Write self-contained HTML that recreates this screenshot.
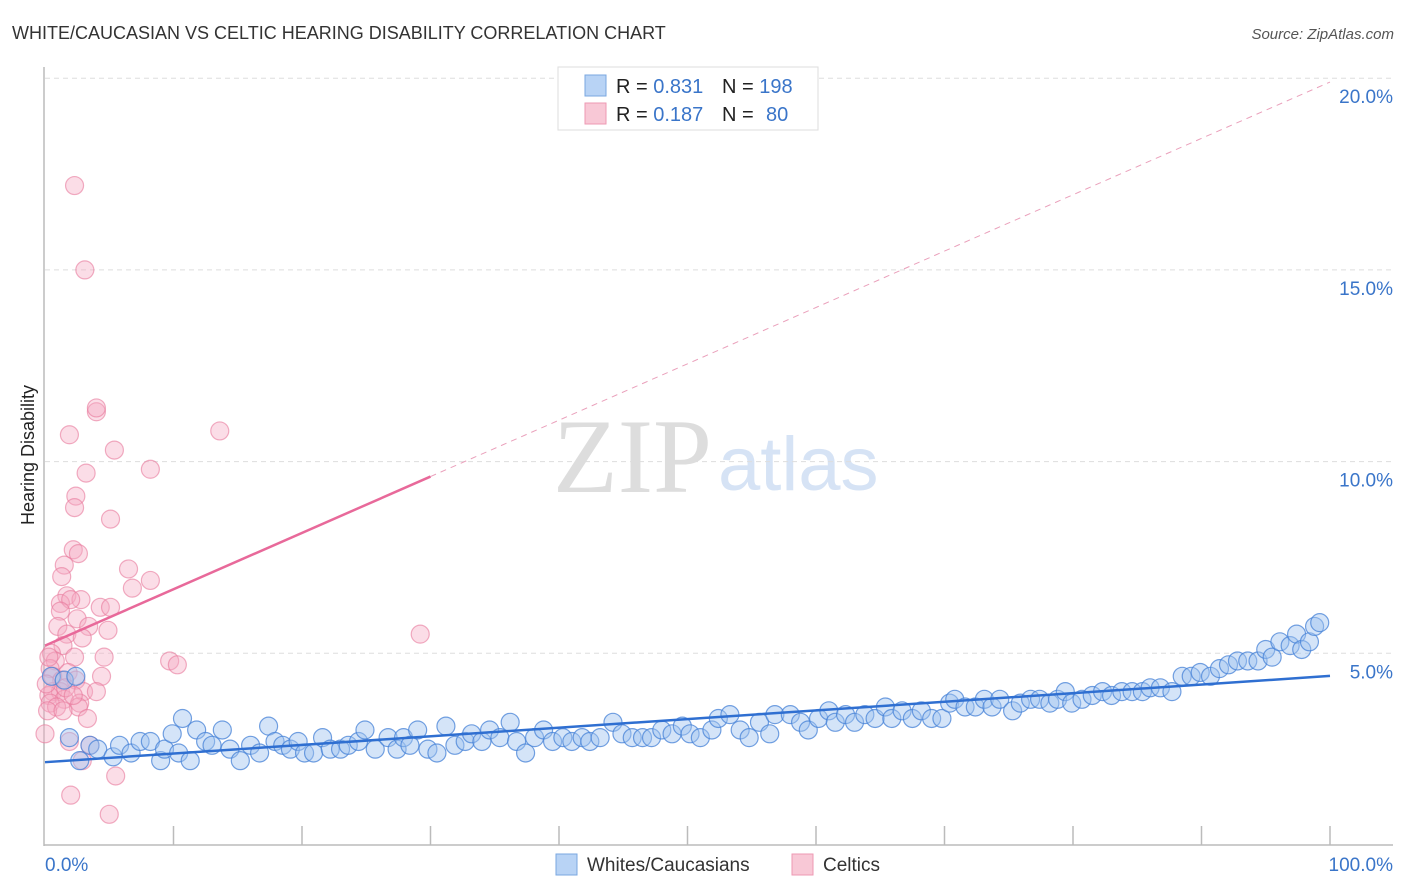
<!DOCTYPE html>
<html><head><meta charset="utf-8"><style>
body{margin:0;background:#fff;font-family:"Liberation Sans",sans-serif;}
svg{display:block}
</style></head><body>
<svg id="chart" width="1406" height="892" xmlns="http://www.w3.org/2000/svg">
<text x="12" y="39" font-size="18" fill="#333">WHITE/CAUCASIAN VS CELTIC HEARING DISABILITY CORRELATION CHART</text>
<text x="1394" y="39" font-size="15" fill="#555" font-style="italic" text-anchor="end">Source: ZipAtlas.com</text>
<g>
<text x="553" y="492" font-family="Liberation Serif,serif" font-size="106" fill="#ddd">ZIP</text>
<text x="718" y="490" font-size="76" fill="#d6e3f5">atlas</text>
</g>
<g id="grid"></g>
<g id="axes"></g>
<g id="pts"></g>
<g id="trends"></g>
<text transform="translate(34,455) rotate(-90)" font-size="18" fill="#222" text-anchor="middle">Hearing Disability</text>
<g>
<rect x="558" y="67" width="260" height="63" fill="#fff" stroke="#ddd"/>
<rect x="585" y="75" width="21" height="21" fill="#b8d3f5" stroke="#7aa7e0"/>
<rect x="585" y="103" width="21" height="21" fill="#f8c8d6" stroke="#ee99b3"/>
<text x="616" y="93" font-size="20" fill="#222">R = <tspan fill="#3a75c9">0.831</tspan><tspan x="722">N = </tspan><tspan fill="#3a75c9">198</tspan></text>
<text x="616" y="121" font-size="20" fill="#222">R = <tspan fill="#3a75c9">0.187</tspan><tspan x="722">N = </tspan><tspan fill="#3a75c9" x="766">80</tspan></text>
</g>
<g>
<rect x="556" y="854" width="21" height="21" fill="#b8d3f5" stroke="#7aa7e0"/>
<text x="587" y="871" font-size="19" fill="#333">Whites/Caucasians</text>
<rect x="792" y="854" width="21" height="21" fill="#f8c8d6" stroke="#ee99b3"/>
<text x="823" y="871" font-size="19" fill="#333">Celtics</text>
</g>
</svg>
<script>
const yTicks=[5,10,15,20];
const yTickLabels=["5.0%","10.0%","15.0%","20.0%"];
const xLabels=["0.0%","100.0%"];
const blueX=[1.9,2.7,3.5,4.1,5.3,5.8,6.7,7.4,8.2,9.0,9.3,9.9,10.4,10.7,11.3,11.8,12.5,13.0,13.8,14.4,15.2,16.0,16.7,17.4,17.9,18.5,19.1,19.7,20.2,20.9,21.6,22.2,23.0,23.6,24.4,24.9,25.7,26.7,27.4,27.9,28.4,29.0,29.8,30.5,31.2,31.9,32.7,33.2,34.0,34.6,35.4,36.2,36.7,37.4,38.1,38.8,39.5,40.3,41.0,41.8,42.4,43.2,44.2,44.9,45.7,46.5,47.2,48.0,48.8,49.6,50.2,51.0,51.9,52.4,53.3,54.1,54.8,55.6,56.4,56.8,58.0,58.8,59.4,60.2,61.0,61.5,62.3,63.0,63.8,64.6,65.4,65.9,66.7,67.5,68.2,69.0,69.8,70.4,70.8,71.6,72.4,73.1,73.7,74.3,75.3,75.9,76.7,77.4,78.2,78.8,79.4,79.9,80.7,81.5,82.3,83.0,83.8,84.6,85.4,86.0,86.8,87.7,88.5,89.2,89.9,90.7,91.4,92.1,92.8,93.6,94.4,95.0,95.5,96.1,96.9,97.4,97.8,98.4,98.8,99.2,0.5,1.5,2.4];
const blueY=[2.8,2.2,2.6,2.5,2.3,2.6,2.4,2.7,2.7,2.2,2.5,2.9,2.4,3.3,2.2,3.0,2.7,2.6,3.0,2.5,2.2,2.6,2.4,3.1,2.7,2.6,2.5,2.7,2.4,2.4,2.8,2.5,2.5,2.6,2.7,3.0,2.5,2.8,2.5,2.8,2.6,3.0,2.5,2.4,3.1,2.6,2.7,2.9,2.7,3.0,2.8,3.2,2.7,2.4,2.8,3.0,2.7,2.8,2.7,2.8,2.7,2.8,3.2,2.9,2.8,2.8,2.8,3.0,2.9,3.1,2.9,2.8,3.0,3.3,3.4,3.0,2.8,3.2,2.9,3.4,3.4,3.2,3.0,3.3,3.5,3.2,3.4,3.2,3.4,3.3,3.6,3.3,3.5,3.3,3.5,3.3,3.3,3.7,3.8,3.6,3.6,3.8,3.6,3.8,3.5,3.7,3.8,3.8,3.7,3.8,4.0,3.7,3.8,3.9,4.0,3.9,4.0,4.0,4.0,4.1,4.1,4.0,4.4,4.4,4.5,4.4,4.6,4.7,4.8,4.8,4.8,5.1,4.9,5.3,5.2,5.5,5.1,5.3,5.7,5.8,4.4,4.3,4.4];
const pinkX=[2.3,3.1,4.0,1.9,13.6,5.4,3.2,8.2,2.4,2.3,5.1,2.2,2.6,1.5,1.3,6.5,8.2,6.8,1.7,2.8,1.2,2.0,4.3,5.1,1.2,2.5,1.0,3.4,4.9,29.2,1.7,2.9,1.4,0.5,0.8,2.3,4.6,9.7,10.3,0.4,1.8,0.6,1.3,2.4,4.4,0.6,1.2,3.0,4.0,0.3,1.5,2.7,0.4,0.9,2.6,0.2,1.4,3.3,0.0,1.9,3.5,2.9,5.5,2.0,5.0,4.0,0.3,0.1,1.6,2.2];
const pinkY=[17.2,15.0,11.3,10.7,10.8,10.3,9.7,9.8,9.1,8.8,8.5,7.7,7.6,7.3,7.0,7.2,6.9,6.7,6.5,6.4,6.3,6.4,6.2,6.2,6.1,5.9,5.7,5.7,5.6,5.5,5.5,5.4,5.2,5.0,4.8,4.9,4.9,4.8,4.7,4.6,4.5,4.4,4.3,4.3,4.4,4.0,4.0,4.0,4.0,3.9,3.8,3.7,3.7,3.6,3.6,3.5,3.5,3.3,2.9,2.7,2.6,2.2,1.8,1.3,0.8,11.4,4.9,4.2,4.1,3.9];
const blueTrend=[2.16,4.41];
const pinkTrend=[5.2,19.9];
const pinkSolidEnd=30;
const NS="http://www.w3.org/2000/svg";
const X=v=>45+v*12.85, Y=v=>845-v*38.34;
function mk(tag,attrs,parent){const e=document.createElementNS(NS,tag);for(const k in attrs)e.setAttribute(k,attrs[k]);parent.appendChild(e);return e;}
const grid=document.getElementById('grid'),axes=document.getElementById('axes'),pts=document.getElementById('pts'),tr=document.getElementById('trends');
yTicks.forEach((t,i)=>{
 const l=mk('line',{x1:45,x2:1393,y1:Y(t),y2:Y(t),stroke:'#ddd','stroke-dasharray':'5,4'},grid);
 
 
 const tx=mk('text',{x:1393,y:Y(t)+25,'font-size':19,fill:'#3a75c9','text-anchor':'end'},axes);
 tx.textContent=yTickLabels[i];
 
 
});
mk('line',{x1:44,x2:44,y1:67,y2:846,stroke:'#bbb','stroke-width':1.5},axes);
mk('line',{x1:44,x2:1393,y1:845,y2:845,stroke:'#bbb','stroke-width':1.5},axes);
for(let i=1;i<=10;i++){const t=mk('line',{x1:X(i*10),x2:X(i*10),y1:826,y2:845,stroke:'#bbb','stroke-width':1.5},axes);
 
 }
const xl0=mk('text',{x:45,y:871,'font-size':19,fill:'#3a75c9'},axes);xl0.textContent=xLabels[0];


const xl1=mk('text',{x:1393,y:871,'font-size':19,fill:'#3a75c9','text-anchor':'end'},axes);xl1.textContent=xLabels[1];


pinkX.forEach((x,i)=>{const c=mk('circle',{cx:X(x),cy:Y(pinkY[i]),r:9,fill:'rgba(246,170,195,0.4)',stroke:'rgba(232,120,155,0.6)','stroke-width':1.2},pts);
 
 });
blueX.forEach((x,i)=>{const c=mk('circle',{cx:X(x),cy:Y(blueY[i]),r:9,fill:'rgba(160,195,240,0.45)',stroke:'rgba(70,130,215,0.75)','stroke-width':1.2},pts);
 
 });
const bl=mk('line',{x1:X(0),y1:Y(blueTrend[0]),x2:X(100),y2:Y(blueTrend[1]),stroke:'#2f6fd1','stroke-width':2.5},tr);


const pm=pinkTrend[0]+(pinkTrend[1]-pinkTrend[0])*pinkSolidEnd/100;
const ps=mk('line',{x1:X(0),y1:Y(pinkTrend[0]),x2:X(pinkSolidEnd),y2:Y(pm),stroke:'#e8699a','stroke-width':2.5},tr);


const pd=mk('line',{x1:X(pinkSolidEnd),y1:Y(pm),x2:X(100),y2:Y(pinkTrend[1]),stroke:'#eaa0bb','stroke-width':1,'stroke-dasharray':'6,5'},tr);


</script>
</body></html>
